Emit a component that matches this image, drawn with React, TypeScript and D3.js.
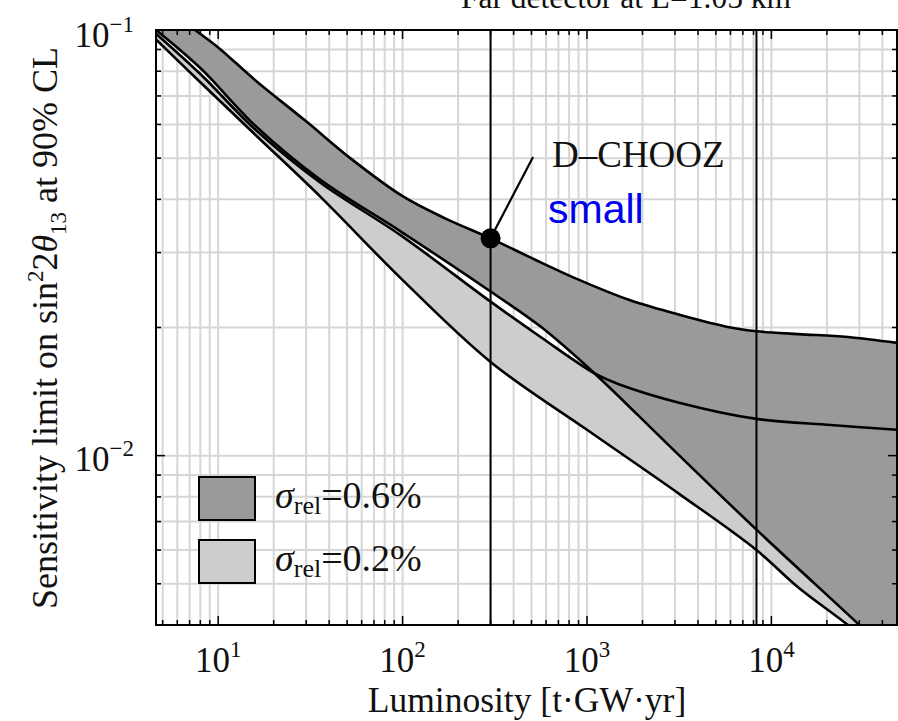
import { useMemo } from 'react'
import * as d3 from 'd3'

// luminosity [t GW yr] vs sensitivity limit
const U6_L = [4.6, 7.5, 10, 16, 30, 52, 100, 170, 300, 520, 920, 1700, 3200, 6000, 8300, 14000, 26000, 48000]
const U6_S = [0.118, 0.1, 0.091, 0.076, 0.061, 0.05, 0.0407, 0.0361, 0.0324, 0.0289, 0.0258, 0.0232, 0.0214, 0.02, 0.0196, 0.0193, 0.019, 0.0184]

const L6_L = [4.6, 8, 16, 36, 97, 300, 560, 1100, 2700, 8300, 30000, 48000]
const L6_S = [0.1, 0.0814, 0.0594, 0.0444, 0.0337, 0.0243, 0.0201, 0.0156, 0.0107, 0.0067, 0.004, 0.0033]

const U2_L = [4.6, 8, 16, 36, 97, 300, 560, 1100, 1500, 3200, 8300, 21000, 48000]
const U2_S = [0.098, 0.0788, 0.0582, 0.0437, 0.033, 0.023, 0.019, 0.0156, 0.0147, 0.0133, 0.0122, 0.0118, 0.0115]

const L2_L = [4.6, 8, 16, 36, 97, 300, 1000, 3200, 8300, 14000, 26000, 48000]
const L2_S = [0.095, 0.0754, 0.0566, 0.0405, 0.0262, 0.0166, 0.0115, 0.0081, 0.006, 0.0049, 0.004, 0.0032]

const VLINES = [300, 8300]
const DCHOOZ = { L: 300, s: 0.0324 }
const LABEL_ANCHOR = { L: 510, s: 0.0503 }

const X_DECADES = [1, 2, 3, 4]
const Y_DECADES = [-1, -2]

const LEGEND = [
  { label: '0.6%', fill: '#9a9a9a' },
  { label: '0.2%', fill: '#cdcdcd' },
]

const W = 898
const H = 721
const margin = { top: 30, right: 1, bottom: 96, left: 156 }

export default function App() {
  const x = d3.scaleLog().domain([4.6, 48000]).range([margin.left, W - margin.right])
  const y = d3.scaleLog().domain([0.004, 0.1]).range([H - margin.bottom, margin.top])
  const x0 = margin.left
  const x1 = W - margin.right
  const y0 = H - margin.bottom
  const y1 = margin.top

  const paths = useMemo(() => {
    const line = d3.line<[number, number]>()
      .x((d) => x(d[0]))
      .y((d) => y(d[1]))
      .curve(d3.curveCatmullRom.alpha(0.5))
    const pts = (ls: number[], ss: number[]) => ls.map((l, i) => [l, ss[i]] as [number, number])
    const u6 = pts(U6_L, U6_S)
    const l6 = pts(L6_L, L6_S)
    const u2 = pts(U2_L, U2_S)
    const l2 = pts(L2_L, L2_S)
    const band = (a: [number, number][], b: [number, number][]) =>
      line(a)! + 'L' + line([...b].reverse())!.slice(1) + 'Z'
    return {
      dark: band(u6, l6),
      light: band(u2, l2),
      lines: [u6, l6, u2, l2].map((p) => line(p)!),
    }
  }, [])

  const xMinor: number[] = []
  for (let e = 0; e <= 4; e++) for (let m = 1; m <= 9; m++) {
    const v = m * 10 ** e
    if (v >= 4.6 && v <= 48000) xMinor.push(v)
  }
  const yMinor: number[] = []
  for (let e = -3; e <= -1; e++) for (let m = 1; m <= 9; m++) {
    const v = m * 10 ** e
    if (v > 0.0041 && v < 0.0999) yMinor.push(v)
  }

  const dx = x(DCHOOZ.L)
  const dy = y(DCHOOZ.s)

  return (
    <svg width={W} height={H} style={{ position: 'absolute', left: 0, top: 0, background: '#fff' }}
      fontFamily="'Liberation Serif', 'Times New Roman', serif">
      <defs>
        <clipPath id="plot-clip">
          <rect x={x0} y={y1} width={x1 - x0} height={y0 - y1} />
        </clipPath>
      </defs>

      <text x={626} y={8} textAnchor="middle" fontSize={31.5} fill="#111">Far detector at L=1.05 km</text>

      {/* grid */}
      <g stroke="#d6d6d6" strokeWidth={2}>
        {xMinor.map((v) => <line key={'gx' + v} x1={x(v)} x2={x(v)} y1={y1} y2={y0} />)}
        {yMinor.map((v) => <line key={'gy' + v} x1={x0} x2={x1} y1={y(v)} y2={y(v)} />)}
      </g>

      <g clipPath="url(#plot-clip)">
        <path d={paths.light} fill="#cdcdcd" />
        <path d={paths.dark} fill="#9a9a9a" />
        {paths.lines.map((d, i) => (
          <path key={i} d={d} fill="none" stroke="#000" strokeWidth={2.6} />
        ))}
        {VLINES.map((v) => (
          <line key={v} x1={x(v)} x2={x(v)} y1={y1} y2={y0} stroke="#000" strokeWidth={2} />
        ))}
      </g>

      {/* ticks */}
      <g stroke="#000" strokeWidth={1.5}>
        {xMinor.map((v) => {
          const len = Number.isInteger(Math.log10(v)) ? 9 : 5
          return (
            <g key={'tx' + v}>
              <line x1={x(v)} x2={x(v)} y1={y0} y2={y0 - len} />
              <line x1={x(v)} x2={x(v)} y1={y1} y2={y1 + len} />
            </g>
          )
        })}
        {yMinor.map((v) => {
          const len = Math.abs(Math.log10(v) - Math.round(Math.log10(v))) < 1e-9 ? 9 : 5
          return (
            <g key={'ty' + v}>
              <line x1={x0} x2={x0 + len} y1={y(v)} y2={y(v)} />
              <line x1={x1} x2={x1 - len} y1={y(v)} y2={y(v)} />
            </g>
          )
        })}
      </g>
      <rect x={x0} y={y1} width={x1 - x0} height={y0 - y1} fill="none" stroke="#000" strokeWidth={2} />

      {/* x tick labels */}
      {X_DECADES.map((e) => (
        <text key={'xl' + e} x={x(10 ** e)} y={672} textAnchor="middle" fontSize={35} fill="#111">
          10<tspan fontSize={23} dy={-15}>{e}</tspan>
        </text>
      ))}
      {Y_DECADES.map((e) => (
        <text key={'yl' + e} x={134} y={e === -1 ? 47 : y(10 ** e) + 15} textAnchor="end" fontSize={35} fill="#111">
          10<tspan fontSize={23} dy={-15}>{'\u2212' + Math.abs(e)}</tspan>
        </text>
      ))}

      <text x={527} y={712} textAnchor="middle" fontSize={35.5} fill="#111">Luminosity [t·GW·yr]</text>
      <text transform="translate(57,328) rotate(-90)" textAnchor="middle" fontSize={36} fill="#111">
        Sensitivity limit on sin<tspan fontSize={23} dy={-14}>2</tspan>
        <tspan dy={14}>2</tspan><tspan fontStyle="italic">θ</tspan>
        <tspan fontSize={23} dy={9}>13</tspan><tspan dy={-9}> at 90% CL</tspan>
      </text>

      {/* D-CHOOZ marker */}
      <line x1={dx} y1={dy} x2={x(LABEL_ANCHOR.L)} y2={y(LABEL_ANCHOR.s)} stroke="#000" strokeWidth={2.2} />
      <circle cx={dx} cy={dy} r={10} fill="#000" />
      <text x={552} y={167} fontSize={37} fill="#111">D–CHOOZ</text>
      <text x={548} y={223} fontSize={41} fill="#0000ee" fontFamily="'Liberation Sans', Arial, sans-serif">small</text>

      {/* legend */}
      {LEGEND.map((d, i) => (
        <g key={d.label} transform={`translate(0,${i * 63})`}>
          <rect x={199} y={477} width={56} height={43} fill={d.fill} stroke="#000" strokeWidth={2} />
          <text x={275} y={508} fontSize={38} fill="#111">
            <tspan fontStyle="italic">σ</tspan>
            <tspan fontSize={26} dy={6}>rel</tspan>
            <tspan dy={-6}>={d.label}</tspan>
          </text>
        </g>
      ))}
    </svg>
  )
}
